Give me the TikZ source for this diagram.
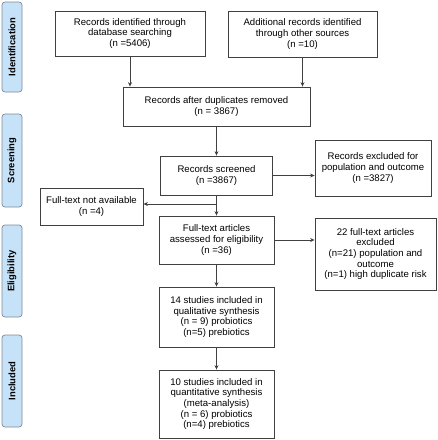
\documentclass[tikz,border=0pt]{standalone}
\usepackage{fontspec}
\setmainfont{Liberation Sans}
\usetikzlibrary{arrows.meta}
\definecolor{sidefill}{HTML}{C6E2F8}
\definecolor{sidedraw}{HTML}{7F8A96}
\definecolor{boxdraw}{HTML}{404040}
\begin{document}
\begin{tikzpicture}[x=1pt,y=-1pt,
  box/.style={draw=boxdraw,line width=0.8pt,fill=white,align=center,inner sep=1pt,
    font=\fontsize{9.6}{10.6}\selectfont},
  side/.style={draw=sidedraw,fill=sidefill,line width=0.7pt,rounded corners=3pt,
    minimum width=20pt,inner sep=0pt},
  sidetext/.style={rotate=90,font=\bfseries\fontsize{9.4}{11}\selectfont},
  arr/.style={draw=boxdraw,line width=0.8pt,-{Stealth[length=4.5pt,width=4pt]}},
  ln/.style={draw=boxdraw,line width=0.8pt}]
\useasboundingbox (0,0) rectangle (438,440);
% side labels
\node[side,minimum height=90pt] (sid) at (12,47) {};
\node[sidetext] (tid) at (sid.center) {Identification};
\node[side,minimum height=93pt] (ssc) at (12,160.5) {};
\node[sidetext] (tsc) at (ssc.center) {Screening};
\node[side,minimum height=92pt] (sel) at (12,271) {};
\node[sidetext] (tel) at (sel.center) {Eligibility};
\node[side,minimum height=92pt] (sin) at (12,381) {};
\node[sidetext] (tin) at (sin.center) {Included};
% boxes
\node[box,minimum width=150pt,minimum height=45pt] (b1) at (130,33.5)
  {Records identified through\\database searching\\(n =5406)};
\node[box,minimum width=149pt,minimum height=46pt] (b2) at (302.5,34)
  {Additional records identified\\through other sources\\(n =10)};
\node[box,minimum width=187pt,minimum height=39pt] (dup) at (216.5,106.5)
  {Records after duplicates removed\\(n = 3867)};
\node[box,minimum width=112pt,minimum height=39pt] (scr) at (216.5,175.5)
  {Records screened\\(n =3867)};
\node[box,minimum width=116pt,minimum height=56pt] (exc) at (373,168)
  {Records excluded for\\population and outcome\\(n =3827)};
\node[box,minimum width=103pt,minimum height=37pt] (nav) at (91.5,206.5)
  {Full-text not available\\(n =4)};
\node[box,minimum width=115pt,minimum height=48pt] (ft) at (216.5,240)
  {Full-text articles\\assessed for eligibility\\(n =36)};
\node[box,minimum width=121pt,minimum height=72pt] (ex22) at (375.5,254)
  {22 full-text articles\\excluded\\(n=21) population and\\outcome\\(n=1) high duplicate risk};
\node[box,minimum width=115pt,minimum height=60pt] (q14) at (216.5,317)
  {14 studies included in\\qualitative synthesis\\(n = 9) probiotics\\(n=5) prebiotics};
\node[box,minimum width=115pt,minimum height=68pt] (q10) at (216.5,404)
  {10 studies included in\\quantitative synthesis\\(meta-analysis)\\(n = 6) probiotics\\(n=4) prebiotics};
% connectors
\draw[arr] (b1.south) -- (b1.south |- dup.north);
\draw[arr] (b2.south) -- (b2.south |- dup.north);
\draw[arr] (dup.south) -- (scr.north);
\draw[arr] (scr.east) -- (scr.east -| exc.west);
\coordinate (br) at (216.5,204);
\draw[arr] (scr.south) -- (ft.north);
\draw[arr] (br) -- (br -| nav.east);
\draw[arr] (ft.east) -- (ft.east -| ex22.west);
\draw[arr] (ft.south) -- (q14.north);
\draw[arr] (q14.south) -- (q10.north);
\end{tikzpicture}
\end{document}
